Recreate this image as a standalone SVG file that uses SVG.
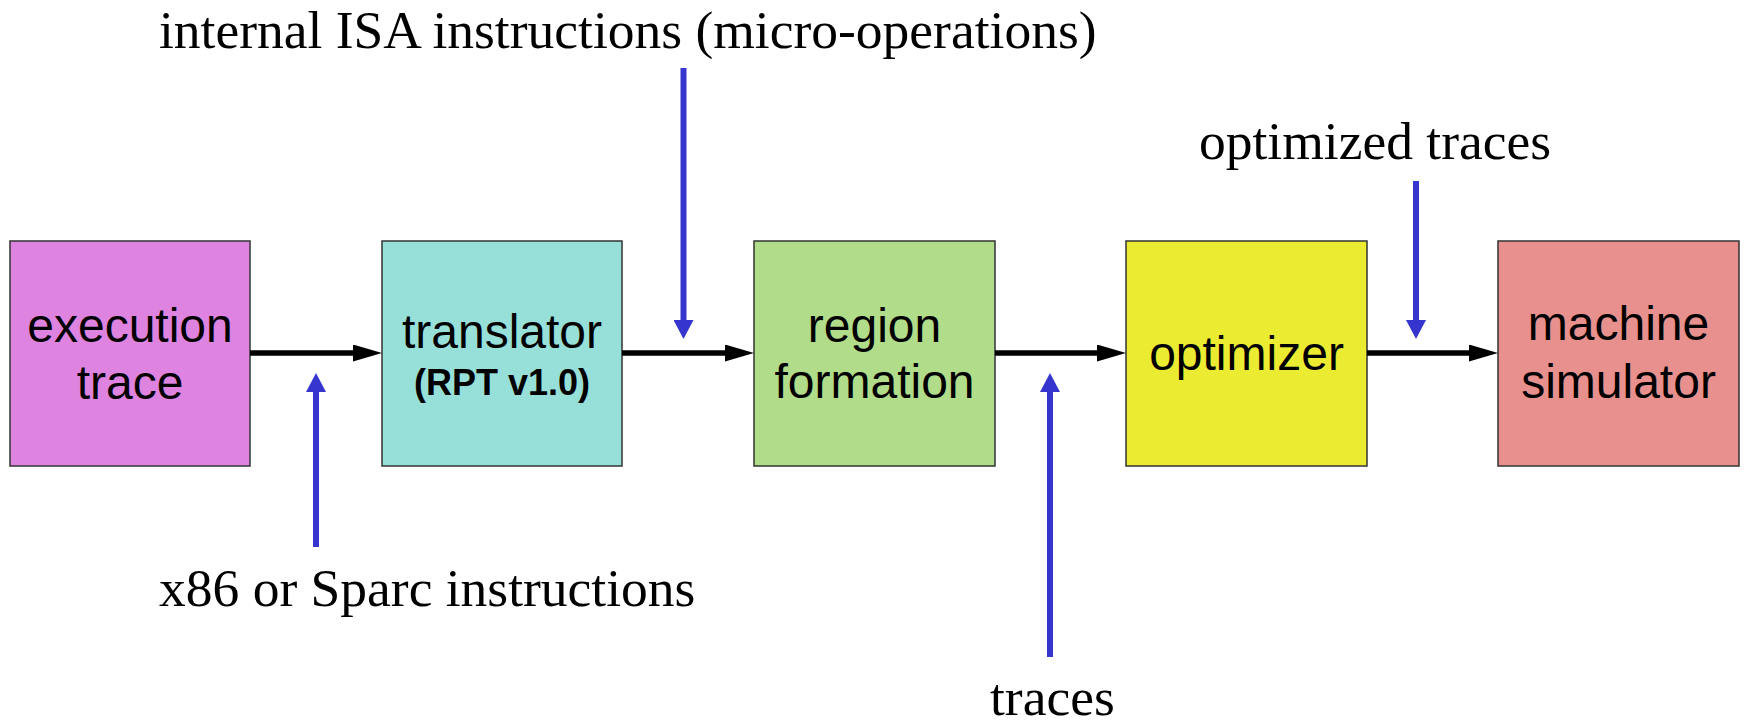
<svg xmlns="http://www.w3.org/2000/svg" width="1744" height="724" viewBox="0 0 1744 724">
  <style>
    .box { stroke: #333333; stroke-width: 1.5; }
    .lbl { font-family: "Liberation Sans", Arial, sans-serif; font-size: 48px; fill: #000; text-anchor: middle; }
    .sub { font-family: "Liberation Sans", Arial, sans-serif; font-size: 36px; font-weight: bold; fill: #000; text-anchor: middle; }
    .note { font-family: "Liberation Serif", "Times New Roman", serif; font-size: 53.5px; fill: #000; }
    .flow { stroke: #000; stroke-width: 5.5; fill: none; }
    .feed { stroke: #3636CE; stroke-width: 6; fill: none; }
  </style>
  <defs>
    <marker id="headBlack" markerUnits="userSpaceOnUse" markerWidth="29" markerHeight="17" refX="2" refY="8.5" orient="auto">
      <path d="M0,0 L29,8.5 L0,17 z" fill="#000"/>
    </marker>
    <marker id="headBlue" markerUnits="userSpaceOnUse" markerWidth="19" markerHeight="20" refX="2" refY="10" orient="auto">
      <path d="M0,0 L19,10 L0,20 z" fill="#3636CE"/>
    </marker>
  </defs>

  <rect width="1744" height="724" fill="#fff"/>

  <g id="exec-trace">
    <rect class="box" x="10" y="241" width="240" height="225" fill="#DE83E0"/>
    <text class="lbl" x="130" y="342">execution</text>
    <text class="lbl" x="130" y="399">trace</text>
  </g>

  <g id="translator">
    <rect class="box" x="382" y="241" width="240" height="225" fill="#97E0D9"/>
    <text class="lbl" x="502" y="348">translator</text>
    <text class="sub" x="502" y="395">(RPT v1.0)</text>
  </g>

  <g id="region-formation">
    <rect class="box" x="754" y="241" width="241" height="225" fill="#B1DC8A"/>
    <text class="lbl" x="874.5" y="342">region</text>
    <text class="lbl" x="874.5" y="398">formation</text>
  </g>

  <g id="optimizer">
    <rect class="box" x="1126" y="241" width="241" height="225" fill="#EBEC32"/>
    <text class="lbl" x="1246.5" y="370">optimizer</text>
  </g>

  <g id="machine-sim">
    <rect class="box" x="1498" y="241" width="241" height="225" fill="#E8908D"/>
    <text class="lbl" x="1618.5" y="340">machine</text>
    <text class="lbl" x="1618.5" y="398">simulator</text>
  </g>

  <g id="connectors">
    <line class="flow" x1="250" y1="353" x2="355" y2="353" marker-end="url(#headBlack)"/>
    <line class="flow" x1="622" y1="353" x2="727" y2="353" marker-end="url(#headBlack)"/>
    <line class="flow" x1="995" y1="353" x2="1099" y2="353" marker-end="url(#headBlack)"/>
    <line class="flow" x1="1367" y1="353" x2="1471" y2="353" marker-end="url(#headBlack)"/>

    <line class="feed" x1="316" y1="547" x2="316" y2="390" marker-end="url(#headBlue)"/>
    <line class="feed" x1="683.5" y1="68" x2="683.5" y2="322" marker-end="url(#headBlue)"/>
    <line class="feed" x1="1050" y1="657" x2="1050" y2="390" marker-end="url(#headBlue)"/>
    <line class="feed" x1="1416" y1="181" x2="1416" y2="322" marker-end="url(#headBlue)"/>
  </g>

  <g id="labels">
    <text class="note" x="159" y="48">internal ISA instructions (micro-operations)</text>
    <text class="note" x="159" y="606">x86 or Sparc instructions</text>
    <text class="note" x="990" y="715">traces</text>
    <text class="note" x="1199" y="159">optimized traces</text>
  </g>
</svg>
